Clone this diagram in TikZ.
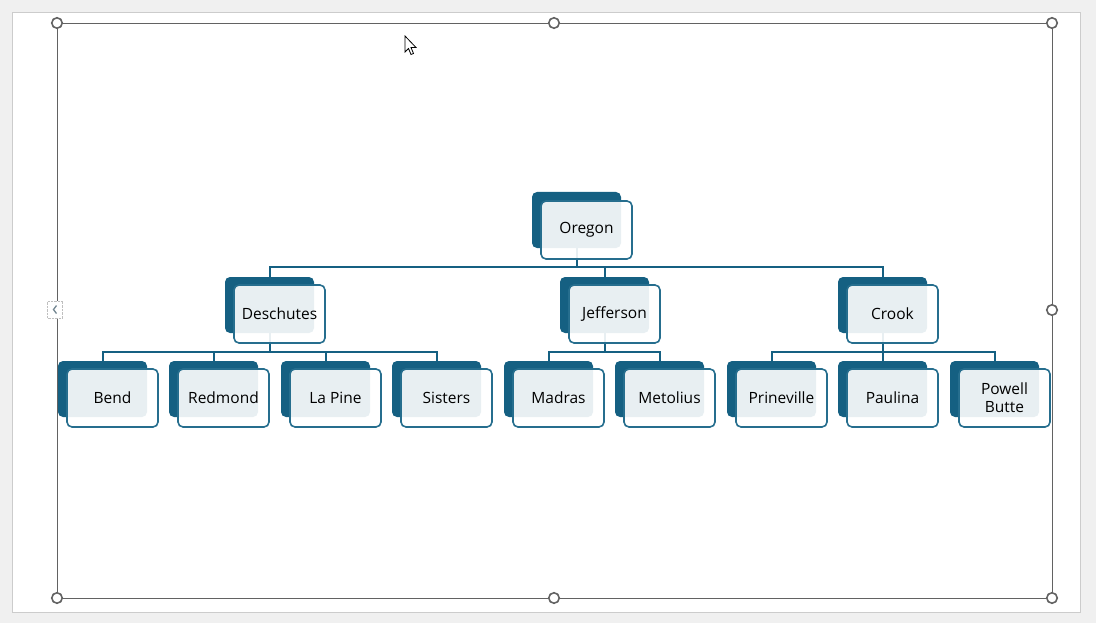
\documentclass[tikz,border=0pt]{standalone}
\usepackage{fontspec}
\setmainfont{Open Sans}
\definecolor{cardteal}{HTML}{156082}
\definecolor{cardline}{HTML}{266E8E}
\definecolor{framegray}{HTML}{626262}
\definecolor{slidegray}{HTML}{F0F0F0}
\tikzset{
    cardback/.style={fill=cardteal, rounded corners=5pt, minimum width=89pt, minimum height=56pt, inner sep=0pt},
    cardfront/.style={draw=cardline, line width=1.6pt, fill=white, fill opacity=0.9, text opacity=1,
        rounded corners=5pt, minimum width=91pt, minimum height=58pt, inner sep=0pt, align=center,
        font=\fontsize{15.5}{18}\selectfont, text=black},
    link/.style={draw=cardteal, line width=2pt},
    grip/.style={circle, draw=framegray, line width=1.6pt, fill=white, minimum size=10.5pt, inner sep=0pt}
}
\begin{document}
\begin{tikzpicture}[x=1pt, y=-1pt]
        \useasboundingbox (0,0) rectangle (1096,623);
        \fill[slidegray] (0,0) rectangle (1096,623);
        \filldraw[fill=white, draw=black!20, line width=0.8pt] (12,12) rectangle (1080,612);
        \draw[framegray, line width=0.8pt] (57,23) rectangle (1052,598);
        \begin{scope}[every node/.style={grip}]
            \node (h1) at (57,23) {};
            \node (h2) at (554,23) {};
            \node (h3) at (1052,23) {};
            \node (h4) at (1052,310) {};
            \node (h5) at (1052,598) {};
            \node (h6) at (554,598) {};
            \node (h7) at (57,598) {};
        \end{scope}
        \node[draw=black!25, densely dotted, fill=white, minimum width=15pt, minimum height=17pt, inner sep=0pt] (prev) at (55,309.5) {};
        \draw[black!45!cyan!40!gray, line width=1.3pt] (56.5,305.5) -- (53.5,309.5) -- (56.5,313.5);
        \filldraw[fill=white, draw=black, line width=0.8pt] (405,36) -- (405,52) -- (408.5,48.5) -- (411,54.5)
            -- (413.5,53.5) -- (411,47.5) -- (416,47.5) -- cycle;
        \begin{scope}[every node/.style={cardback}]
            \node (ob) at (576.5,220) {};
            \node (db) at (269.5,305) {};
            \node (jb) at (604.5,305) {};
            \node (cb) at (882.5,305) {};
            \node (b1) at (102.5,389) {};
            \node (b2) at (213.5,389) {};
            \node (b3) at (325.5,389) {};
            \node (b4) at (436.5,389) {};
            \node (b5) at (548.5,389) {};
            \node (b6) at (659.5,389) {};
            \node (b7) at (771.5,389) {};
            \node (b8) at (882.5,389) {};
            \node (b9) at (994.5,389) {};
        \end{scope}
        \begin{scope}[every path/.style={link}]
            \path (ob.south) -- ++(0,19) -| (db.north);
            \path (ob.south) -- ++(0,19) -| (jb.north);
            \path (ob.south) -- ++(0,19) -| (cb.north);
            \path (db.south) -- ++(0,19) -| (b1.north);
            \path (db.south) -- ++(0,19) -| (b2.north);
            \path (db.south) -- ++(0,19) -| (b3.north);
            \path (db.south) -- ++(0,19) -| (b4.north);
            \path (jb.south) -- ++(0,19) -| (b5.north);
            \path (jb.south) -- ++(0,19) -| (b6.north);
            \path (cb.south) -- ++(0,19) -| (b7.north);
            \path (cb.south) -- ++(0,19) -| (b8.north);
            \path (cb.south) -- ++(0,19) -| (b9.north);
        \end{scope}
        \begin{scope}[every node/.style={cardfront}]
            \node (o) at (586.5,230) {Oregon};
            \node (d) at (279.5,314) {Deschutes};
            \node (j) at (614.5,314) {Jefferson};
            \node (c) at (892.5,314) {Crook};
            \node (f1) at (112.5,398) {Bend};
            \node (f2) at (223.5,398) {Redmond};
            \node (f3) at (335.5,398) {La Pine};
            \node (f4) at (446.5,398) {Sisters};
            \node (f5) at (558.5,398) {Madras};
            \node (f6) at (669.5,398) {Metolius};
            \node (f7) at (781.5,398) {Prineville};
            \node (f8) at (892.5,398) {Paulina};
            \node (f9) at (1004.5,398) {Powell\\Butte};
        \end{scope}
    \end{tikzpicture}
\end{document}
